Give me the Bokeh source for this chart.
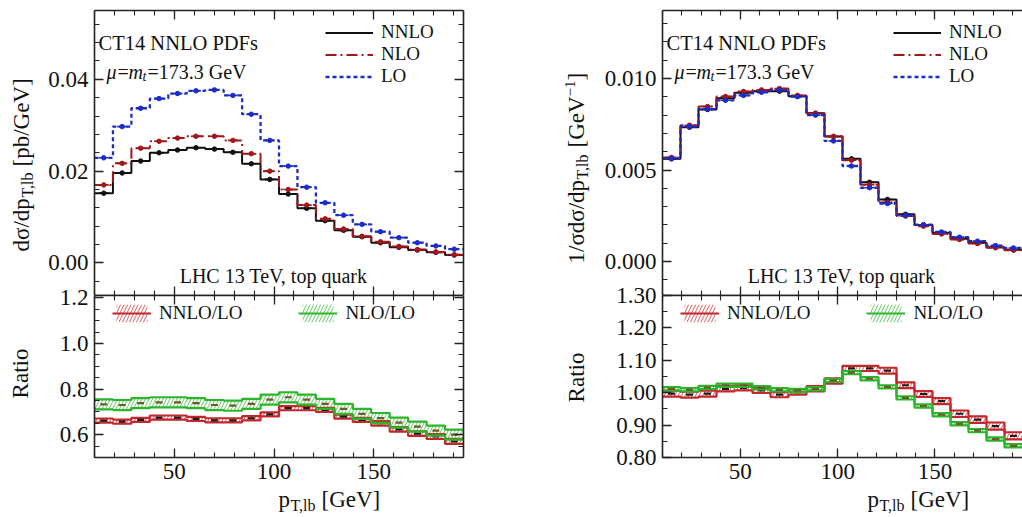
import math
from bokeh.plotting import figure
from bokeh.models import (ColumnDataSource, Label, Legend, LegendItem, LinearAxis, Range1d,
                          SingleIntervalTicker, NumeralTickFormatter)
from bokeh.layouts import row, column
from bokeh.embed import file_html
from bokeh.resources import INLINE

# ---------------- data ----------------
bin_edges = [10.0, 19.25, 28.5, 37.75, 47.0, 56.25, 65.5, 74.75, 84.0, 93.25, 102.5,
             111.75, 121.0, 130.25, 139.5, 148.75, 158.0, 167.25, 176.5, 185.75, 195.0]

# absolute distributions d sigma / d pT,lb [pb/GeV]
abs_nnlo = [0.0152, 0.0196, 0.0222, 0.0240, 0.0246, 0.0251, 0.0248, 0.0241, 0.0216, 0.0182,
            0.0150, 0.0119, 0.0092, 0.0071, 0.0057, 0.0044, 0.0034, 0.0028, 0.0023, 0.0017]
abs_nlo = [0.0170, 0.0217, 0.0250, 0.0265, 0.0272, 0.0276, 0.0276, 0.0267, 0.0238, 0.0200,
           0.0160, 0.0126, 0.0096, 0.0074, 0.0058, 0.0046, 0.0036, 0.0029, 0.0024, 0.0018]
abs_lo = [0.0229, 0.0297, 0.0337, 0.0358, 0.0369, 0.0375, 0.0377, 0.0365, 0.0324, 0.0267,
          0.0211, 0.0165, 0.0131, 0.0104, 0.0084, 0.0068, 0.0055, 0.0044, 0.0037, 0.0030]

ratio_nnlo_lo = [0.662, 0.657, 0.665, 0.675, 0.675, 0.669, 0.663, 0.663, 0.672, 0.689,
                 0.716, 0.716, 0.709, 0.679, 0.665, 0.650, 0.623, 0.605, 0.592, 0.571]
ratio_nnlo_lo_err = [0.009, 0.009, 0.009, 0.009, 0.009, 0.009, 0.009, 0.009, 0.009, 0.009,
                     0.009, 0.009, 0.009, 0.009, 0.009, 0.010, 0.010, 0.010, 0.011, 0.011]
ratio_nlo_lo = [0.733, 0.730, 0.738, 0.742, 0.742, 0.738, 0.730, 0.727, 0.735, 0.754,
                0.764, 0.754, 0.735, 0.713, 0.691, 0.673, 0.653, 0.635, 0.618, 0.600]
ratio_nlo_lo_err = [0.022, 0.022, 0.022, 0.022, 0.022, 0.022, 0.022, 0.022, 0.022, 0.022,
                    0.022, 0.022, 0.022, 0.022, 0.022, 0.022, 0.022, 0.022, 0.022, 0.022]

# normalized distributions 1/sigma d sigma / d pT,lb [1/GeV]
norm_nnlo = [0.00561, 0.00734, 0.00831, 0.00892, 0.00922, 0.00931, 0.00931, 0.00903, 0.00810, 0.00683,
             0.00561, 0.00433, 0.00339, 0.00258, 0.00200, 0.00157, 0.00124, 0.00102, 0.00078, 0.00064]
norm_nlo = [0.00569, 0.00745, 0.00847, 0.00902, 0.00929, 0.00938, 0.00945, 0.00908, 0.00810, 0.00684,
            0.00554, 0.00420, 0.00323, 0.00248, 0.00193, 0.00150, 0.00120, 0.00098, 0.00075, 0.00062]
norm_lo = [0.00563, 0.00738, 0.00833, 0.00881, 0.00908, 0.00925, 0.00937, 0.00901, 0.00800, 0.00659,
           0.00522, 0.00403, 0.00317, 0.00252, 0.00201, 0.00161, 0.00133, 0.00111, 0.00087, 0.00074]

nratio_nnlo_lo = [0.997, 0.994, 0.997, 1.012, 1.015, 1.007, 0.994, 1.002, 1.012, 1.036,
                  1.075, 1.075, 1.068, 1.023, 0.996, 0.974, 0.935, 0.917, 0.897, 0.867]
nratio_nnlo_lo_err = [0.009, 0.009, 0.009, 0.008, 0.008, 0.008, 0.008, 0.008, 0.008, 0.008,
                      0.008, 0.008, 0.009, 0.009, 0.009, 0.009, 0.010, 0.010, 0.011, 0.011]
nratio_nlo_lo = [1.012, 1.009, 1.016, 1.023, 1.023, 1.015, 1.009, 1.007, 1.012, 1.038,
                 1.062, 1.043, 1.018, 0.984, 0.959, 0.932, 0.904, 0.883, 0.857, 0.836]
nratio_nlo_lo_err = [0.005, 0.005, 0.005, 0.005, 0.005, 0.005, 0.005, 0.005, 0.005, 0.005,
                     0.005, 0.005, 0.005, 0.005, 0.005, 0.005, 0.005, 0.005, 0.005, 0.005]

series_labels = ["NNLO", "NLO", "LO"]
ratio_labels = ["NNLO/LO", "NLO/LO"]

# ---------------- style ----------------
SERIF = "Liberation Serif"
C_NNLO = "#111111"
C_NLO = "#a3161a"
C_LO = "#1c2cc4"
C_RRED = "#c4262b"
C_RGREEN = "#2bb52b"
AX = "#222222"
HALF = math.pi / 2
TICK_FS = "23px"
OVER = 16  # ratio figure overlaps the top figure by this many pixels (transparent border)

centers = [(bin_edges[i] + bin_edges[i + 1]) / 2 for i in range(len(bin_edges) - 1)]


def ext(v):
    return list(v) + [v[-1]]


def make_fig(width, height, xr, yr, left, right, top, bottom, axes=True):
    kw = {} if axes else dict(x_axis_location=None, y_axis_location=None)
    p = figure(width=width, height=height, x_range=Range1d(*xr), y_range=Range1d(*yr),
               output_backend="svg", toolbar_location=None,
               min_border_left=left, min_border_right=right,
               min_border_top=top, min_border_bottom=bottom, **kw)
    p.grid.visible = False
    p.outline_line_color = None
    p.background_fill_color = "white"
    p.border_fill_color = "white"
    return p


def style_axis(ax, labels, line=True, standoff=6):
    ax.major_tick_in = 9
    ax.major_tick_out = 0
    ax.minor_tick_in = 5
    ax.minor_tick_out = 0
    ax.axis_line_color = AX if line else None
    ax.axis_line_width = 1.6
    ax.major_tick_line_color = AX
    ax.minor_tick_line_color = AX
    ax.major_tick_line_width = 1.3
    ax.minor_tick_line_width = 1.1
    if labels:
        ax.major_label_text_font = SERIF
        ax.major_label_text_font_size = TICK_FS
        ax.major_label_text_color = "#111111"
        ax.major_label_standoff = standoff
    else:
        # mirrored tick marks only: labels are not painted
        ax.major_label_text_color = None
        ax.major_label_text_font_size = "1px"
        ax.major_label_standoff = 0


def setup_axes(p, ytick, yfmt, x_labels, right_axis=True):
    xa = p.xaxis[0]
    xa.ticker = xtick()
    style_axis(xa, x_labels, standoff=6)
    ya = p.yaxis[0]
    ya.ticker = ytick()
    ya.formatter = NumeralTickFormatter(format=yfmt)
    style_axis(ya, True, standoff=6)
    above = LinearAxis(ticker=xtick())
    style_axis(above, False)
    p.add_layout(above, "above")
    if right_axis:
        r = LinearAxis(ticker=ytick())
        style_axis(r, False)
        p.add_layout(r, "right")


def add_text(p, frame, text, X, Y, size=20, align="left", baseline="middle", angle=0.0,
             style="normal"):
    # X, Y are page pixel positions; frame = (frame left, frame bottom) in page pixels
    fl, fb = frame
    p.add_layout(Label(x=X - fl, y=fb - Y, x_units="screen", y_units="screen", text=text,
                       text_font=SERIF, text_font_size=f"{size}px", text_align=align,
                       text_baseline=baseline, angle=angle, text_font_style=style,
                       text_color="#111111"))


def xtick():
    return SingleIntervalTicker(interval=50, num_minor_ticks=5)


def ytk(interval, minor):
    return lambda: SingleIntervalTicker(interval=interval, num_minor_ticks=minor)


def top_panel(width, left, right, yr, vals, ytick, yfmt, frame, right_axis):
    p = make_fig(width, 295, (10, 195), yr, left, right, 10, 0)
    setup_axes(p, ytick, yfmt, False, right_axis=right_axis)
    rends = []
    specs = [(vals[0], C_NNLO, None, 2.0), (vals[1], C_NLO, "11 4 2 4", 2.0),
             (vals[2], C_LO, "4 3", 2.3)]
    for v, c, dash, w in specs:
        src = ColumnDataSource(dict(x=bin_edges, y=ext(v)))
        kw = dict(line_dash=dash) if dash else {}
        r = p.step(x="x", y="y", source=src, mode="after", line_color=c, line_width=w, **kw)
        rends.append(r)
        msrc = ColumnDataSource(dict(x=centers, y=v))
        p.scatter(x="x", y="y", source=msrc, marker="dash", size=10, line_width=1.6, color=c)
        p.scatter(x="x", y="y", source=msrc, marker="circle", size=4.5, color=c)
    leg = Legend(items=[LegendItem(label=l, renderers=[r]) for l, r in zip(series_labels, rends)],
                 location=(231, 208), orientation="vertical", border_line_color=None,
                 background_fill_alpha=0, label_text_font=SERIF, label_text_font_size="19px",
                 label_text_color="#111111", glyph_width=48, glyph_height=21, label_height=21,
                 label_standoff=8, spacing=0, padding=0, margin=0)
    p.add_layout(leg)
    add_text(p, frame, "CT14 NNLO PDFs", frame[0] + 4, 42, size=20.5)
    y2 = 71
    x0 = frame[0] + 12
    add_text(p, frame, "μ", x0, y2, size=20, style="italic")
    add_text(p, frame, "=", x0 + 11, y2, size=20)
    add_text(p, frame, "m", x0 + 22, y2, size=20, style="italic")
    add_text(p, frame, "t", x0 + 36, y2 + 5, size=14, style="italic")
    add_text(p, frame, "=173.3 GeV", x0 + 41, y2, size=20)
    add_text(p, frame, "LHC 13 TeV, top quark", frame[0] + 179, 275, size=20, align="center")
    return p


def ratio_panel(width, left, right, yr, ratios, errs, ytick, yfmt, right_axis):
    p = make_fig(width, 191 + OVER, (10, 195), yr, left, right, OVER, 29)
    p.border_fill_alpha = 0.0
    p.margin = (-OVER, 0, 0, 0)
    setup_axes(p, ytick, yfmt, True, right_axis=right_axis)
    items = []
    specs = [(ratios[0], errs[0], C_RRED, "#1a1a1a"), (ratios[1], errs[1], C_RGREEN, "#6b5a2a")]
    for (v, e, c, mc), lab in zip(specs, ratio_labels):
        hi = [a + b for a, b in zip(v, e)]
        lo = [a - b for a, b in zip(v, e)]
        src = ColumnDataSource(dict(x=bin_edges, hi=ext(hi), lo=ext(lo)))
        band = p.varea_step(x="x", y1="lo", y2="hi", source=src, step_mode="after",
                            fill_color="white", fill_alpha=0.0, hatch_pattern="/",
                            hatch_color=c, hatch_alpha=0.75, hatch_scale=7, hatch_weight=1.0)
        p.step(x="x", y="hi", source=src, mode="after", line_color=c, line_width=2.2)
        lr_ = p.step(x="x", y="lo", source=src, mode="after", line_color=c, line_width=2.2)
        msrc = ColumnDataSource(dict(x=centers, y=v))
        p.scatter(x="x", y="y", source=msrc, marker="dash", size=7, line_width=2.2, color=mc)
        items.append(LegendItem(label=lab, renderers=[band, lr_]))
    leg = Legend(items=items, location=(18, 133), orientation="horizontal", border_line_color=None,
                 background_fill_alpha=0, label_text_font=SERIF, label_text_font_size="19px",
                 label_text_color="#111111", glyph_width=39, glyph_height=22, label_height=22,
                 label_standoff=8, spacing=56, padding=0, margin=0)
    p.add_layout(leg)
    return p


def text_fig(width, height):
    return make_fig(width, height, (0, 1), (0, 1), 0, 0, 0, 0, axes=False)


def x_title(width, frame, xs):
    t = text_fig(width, 29)
    add_text(t, frame, "p", xs, 499, size=23)
    add_text(t, frame, "T,lb", xs + 12, 505, size=16)
    add_text(t, frame, "[GeV]", xs + 43, 499, size=23)
    return t


# ---------------- left block (page x 0..540) ----------------
ytl = text_fig(45, 515)
FYL = (0, 515)
add_text(ytl, FYL, "dσ/dp", 21, 251, size=23, angle=HALF)
add_text(ytl, FYL, "T,lb", 27, 197, size=16, angle=HALF)
add_text(ytl, FYL, "[pb/GeV]", 21, 166, size=23, angle=HALF)
add_text(ytl, FYL, "Ratio", 20, 373, size=23, angle=HALF, align="center")

lt = top_panel(495, 48, 77, (-0.0071, 0.055), [abs_nnlo, abs_nlo, abs_lo], ytk(0.02, 5), "0.00",
               (93, 295), True)
lr = ratio_panel(495, 48, 77, (0.5, 1.21), [ratio_nnlo_lo, ratio_nlo_lo],
                 [ratio_nnlo_lo_err, ratio_nlo_lo_err], ytk(0.2, 4), "0.0", True)
xtl = x_title(495, (45, 515), 229)

# ---------------- right block (page x 540..1022) ----------------
ytr = text_fig(50, 515)
FYR = (540, 515)
add_text(ytr, FYR, "1/σdσ/dp", 576, 263, size=23, angle=HALF)
add_text(ytr, FYR, "T,lb", 582, 179, size=16, angle=HALF)
add_text(ytr, FYR, "[GeV", 576, 147, size=23, angle=HALF)
add_text(ytr, FYR, "−1", 569, 96, size=15, angle=HALF)
add_text(ytr, FYR, "]", 576, 80, size=23, angle=HALF)
add_text(ytr, FYR, "Ratio", 576, 377, size=23, angle=HALF, align="center")

rt = top_panel(432, 72, 0, (-0.00186, 0.01372), [norm_nnlo, norm_nlo, norm_lo], ytk(0.005, 5),
               "0.000", (662, 295), False)
rr = ratio_panel(432, 72, 0, (0.80, 1.30), [nratio_nnlo_lo, nratio_nlo_lo],
                 [nratio_nnlo_lo_err, nratio_nlo_lo_err], ytk(0.1, 2), "0.00", False)
xtr = x_title(432, (590, 515), 795)

layout = row(ytl, column(lt, lr, xtl), ytr, column(rt, rr, xtr))
open("out.html", "w").write(file_html(layout, INLINE))
